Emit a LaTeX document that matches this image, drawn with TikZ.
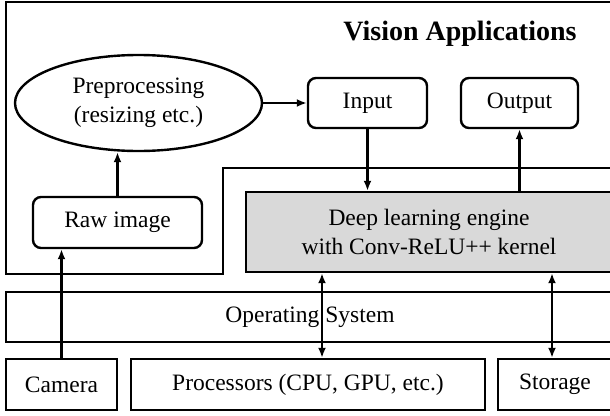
\documentclass[tikz,border=0pt]{standalone}
\usepackage{fontspec}
\setmainfont{Liberation Serif}
\usepackage{tikz}
\usetikzlibrary{arrows.meta,shapes.geometric,positioning}

\begin{document}
\begin{tikzpicture}[x=1pt,y=-1pt]

	\tikzstyle box=[draw,line width=2.4pt,inner sep=0pt,font=\fontsize{23.5}{29}\selectfont,align=center];
	\tikzstyle round box=[box,rounded corners=8pt];
	\tikzstyle link=[line width=2.4pt,-{Latex[length=10pt,width=8pt]}];
	\tikzstyle both link=[line width=2.4pt,{Latex[length=10pt,width=8pt]}-{Latex[length=10pt,width=8pt]}];

	\useasboundingbox (0,0) rectangle (610,415);
	\clip (0,0) rectangle (610,415);

	% application frame
	\draw[line width=2.4pt] (620,2) -- (6,2) -- (6,274) -- (223,274) -- (223,168) -- (620,168);
	\node (title) at (460,34) {\fontsize{28}{32}\selectfont\bfseries Vision Applications};

	\node[box,ellipse,minimum width=247pt,minimum height=96pt] (prep) at (138.5,103) {Preprocessing\\(resizing etc.)};
	\node[round box,minimum width=119pt,minimum height=50pt] (input) at (367.5,103) {Input};
	\node[round box,minimum width=117pt,minimum height=50pt] (output) at (519.5,103) {Output};
	\node[round box,minimum width=169pt,minimum height=51pt] (raw) at (117.5,222.5) {Raw image};
	\node[box,fill=black!15,minimum width=366pt,minimum height=80pt] (engine) at (429,232) {Deep learning engine\\with Conv-ReLU++ kernel};

	\node[box,minimum width=608pt,minimum height=50pt] (os) at (310,317) {Operating System};

	\node[box,minimum width=111pt,minimum height=51pt] (camera) at (61.5,384.5) {Camera};
	\node[box,minimum width=354pt,minimum height=51pt] (cpu) at (308,384.5) {Processors (CPU, GPU, etc.)};
	\node[box,minimum width=114pt,minimum height=51pt] (storage) at (555,384.5) {Storage};

	\draw[link] (camera.north) -- (camera.north |- raw.south);
	\draw[link] (raw.north) -- (raw.north |- prep.south);
	\draw[link] (prep.east) -- (input.west);
	\draw[link] (input.south) -- (input.south |- engine.north);
	\draw[link] (output.south |- engine.north) -- (output.south);
	\draw[both link] ([xshift=14pt]cpu.north) -- ([xshift=14pt]cpu.north |- engine.south);
	\draw[both link] ([xshift=-3pt]storage.north) -- ([xshift=-3pt]storage.north |- engine.south);

\end{tikzpicture}
\end{document}
